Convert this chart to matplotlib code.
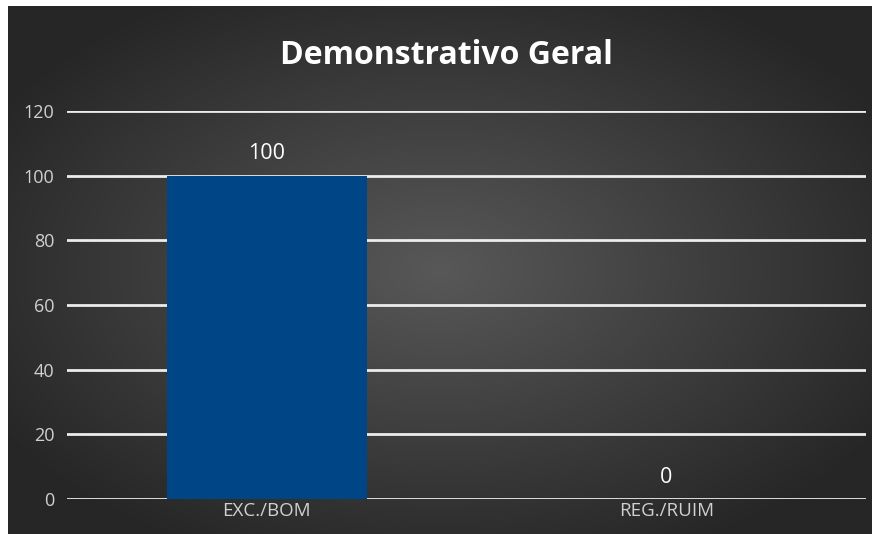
import numpy as np
import matplotlib
matplotlib.use("Agg")
import matplotlib.pyplot as plt

categories = ["EXC./BOM", "REG./RUIM"]
values = [100, 0]
yticks = [0, 20, 40, 60, 80, 100, 120]
title = "Demonstrativo Geral"

W, H = 872, 534
fig = plt.figure(figsize=(W / 100, H / 100), dpi=100)
fig.patch.set_facecolor("white")

# radial gradient background
bg = fig.add_axes([8 / W, 0, (W - 8) / W, (H - 6) / H])
yy, xx = np.mgrid[-1:1:300j, -1:1:500j]
r = np.sqrt(xx ** 2 + yy ** 2)
r = np.clip(r / 1.2, 0, 1)
c0 = np.array([0x58, 0x58, 0x58]) / 255
c1 = np.array([0x26, 0x26, 0x26]) / 255
img = c0[None, None, :] * (1 - r[..., None]) + c1[None, None, :] * r[..., None]
bg.imshow(img, aspect="auto", extent=[0, 1, 0, 1])
bg.axis("off")

font = "Open Sans"

ax = fig.add_axes([67 / W, (H - 499) / H, (866 - 67) / W, (499 - 111) / H])
ax.patch.set_alpha(0)
x = np.arange(len(categories))
ax.bar(x, values, width=0.5, color="#004586", zorder=3)
for xi, v in zip(x, values):
    ax.text(xi, v + 3.5, str(v), ha="center", va="bottom", color="white", fontsize=15.5,
            family=font)

ax.set_xlim(-0.5, 1.5)
ax.set_ylim(0, 120)
ax.set_yticks(yticks)
ax.set_xticks(x)
ax.set_xticklabels(categories, color="#d0d0d0", fontsize=13.5, family=font)
ax.tick_params(axis="y", colors="#d0d0d0", labelsize=13, length=0, pad=9)
ax.tick_params(axis="x", length=0, pad=2)
for lab in ax.get_yticklabels():
    lab.set_family(font)
ax.grid(axis="y", color="#ececec", lw=2, zorder=1)
for s in ax.spines.values():
    s.set_visible(False)

fig.text(446 / W, 1 - 55 / H, title, ha="center", va="center", color="white",
         fontsize=23, fontweight="bold", family=font)

fig.savefig("out.png", dpi=100)
